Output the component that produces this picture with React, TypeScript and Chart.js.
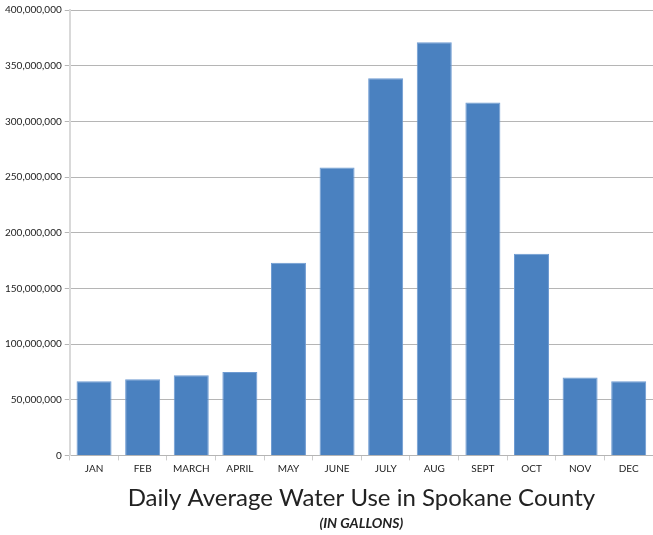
import React, { useEffect, useRef } from "react";
import { Chart, registerables } from "chart.js";

Chart.register(...registerables);

const months = ["JAN", "FEB", "MARCH", "APRIL", "MAY", "JUNE", "JULY", "AUG", "SEPT", "OCT", "NOV", "DEC"];
const gallons = [66700000, 68500000, 72000000, 74800000, 173000000, 258600000, 338700000, 371000000, 317000000, 181000000, 70000000, 66700000];
const titleText = "Daily Average Water Use in Spokane County";
const subtitleText = "(IN GALLONS)";

export default function App() {
  const ref = useRef<HTMLCanvasElement | null>(null);
  useEffect(() => {
    if (!ref.current) return;
    const chart = new Chart(ref.current, {
      type: "bar",
      data: {
        labels: months,
        datasets: [
          {
            data: gallons,
            backgroundColor: "#4a81c0",
            borderColor: "#6e9bd2",
            borderWidth: 1,
            barPercentage: 0.72,
            categoryPercentage: 1,
          },
        ],
      },
      options: {
        animation: false,
        responsive: false,
        maintainAspectRatio: false,
        layout: { padding: { top: 10, right: 0, left: 2, bottom: 3 } },
        plugins: {
          legend: { display: false },
          tooltip: { enabled: false },
          // bottom boxes stack outward: the title plugin ends up outermost, so it carries the subtitle line
          title: {
            display: true,
            text: subtitleText,
            position: "bottom",
            fullSize: false,
            color: "#222",
            font: { family: "Lato", size: 14, weight: "bold", style: "italic" },
            padding: { top: 3, bottom: 0 },
          },
          subtitle: {
            display: true,
            text: titleText,
            position: "bottom",
            fullSize: false,
            color: "#222",
            font: { family: "Lato", size: 24, weight: "normal" },
            padding: { top: 7, bottom: 0 },
          },
        },
        scales: {
          x: {
            grid: { display: true, drawOnChartArea: false, drawTicks: true, tickLength: 5, color: "#cccccc" },
            border: { display: false },
            ticks: { color: "#222", font: { family: "Lato", size: 10 }, padding: 2, maxRotation: 0 },
          },
          y: {
            min: 0,
            max: 400000000,
            ticks: {
              stepSize: 50000000,
              color: "#222",
              font: { family: "Lato", size: 10 },
              padding: 3,
              callback: (v: any) => Number(v).toLocaleString("en-US"),
            },
            grid: { color: "#b5b5b5", tickLength: 5, tickColor: "#b5b5b5" },
            border: { color: "#d9d9d9", width: 2 },
          },
        },
      },
    });
    return () => chart.destroy();
  }, []);
  return (
    <div style={{ position: "fixed", left: 0, top: 0, width: 653, height: 535, background: "#fff" }}>
      <canvas ref={ref} width={653} height={535} style={{ width: 653, height: 535 }} />
    </div>
  );
}
